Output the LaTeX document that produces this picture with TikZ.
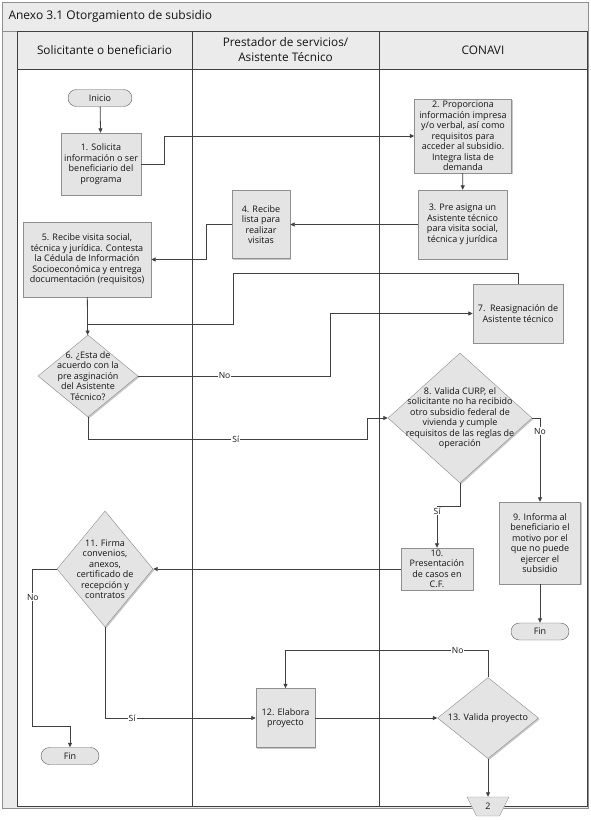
\documentclass[tikz,border=0pt]{standalone}
\usepackage{fontspec}
\setmainfont{Open Sans}
\usetikzlibrary{shapes.geometric,arrows.meta,shadows}
\definecolor{fondo}{HTML}{EBEBEB}
\definecolor{cajagris}{HTML}{E4E4E4}
\definecolor{borde}{HTML}{8F8F8F}
\definecolor{trazo}{HTML}{404040}
\definecolor{letra}{HTML}{141414}
\tikzset{
carril/.style={align=center, text=letra, font=\fontsize{11.8}{15}\selectfont},
caja/.style={draw=borde, fill=cajagris, text=letra, inner sep=1pt, align=center,
  font=\fontsize{9}{10.5}\selectfont,
  drop shadow={shadow xshift=1.3pt, shadow yshift=-1.3pt, fill=black!22, opacity=1}},
rombo/.style={diamond, draw=borde, fill=cajagris, inner sep=0pt,
  drop shadow={shadow xshift=1.3pt, shadow yshift=-1.3pt, fill=black!22, opacity=1}},
textorombo/.style={align=center, text=letra, font=\fontsize{9}{10.5}\selectfont},
terminal/.style={draw=trazo!85, fill=cajagris, text=letra, rounded corners=8.5pt,
  minimum width=58pt, minimum height=17pt, inner sep=0pt, font=\fontsize{9}{10}\selectfont},
conector/.style={minimum width=42pt, minimum height=19pt, inner sep=0pt,
  text=letra, font=\fontsize{9}{10}\selectfont},
flecha/.style={draw=trazo, line width=0.8pt, -{Triangle[length=4.5pt,width=4pt]}},
linea/.style={draw=trazo, line width=0.8pt},
etiqueta/.style={fill=white, inner sep=1pt, text=letra, font=\fontsize{8.5}{10}\selectfont}
}
\begin{document}
\begin{tikzpicture}[x=1pt,y=-1pt]
\useasboundingbox (0,0) rectangle (590,820);
\draw[borde, fill=fondo] (2,2) rectangle (588,808);
\draw[borde] (2,31) -- (588,31);
\draw[trazo, fill=fondo] (17,31) rectangle (587,69);
\draw[trazo, fill=white] (17,69) rectangle (587,806);
\draw[trazo] (192,31) -- (192,806);
\draw[trazo] (379,31) -- (379,806);
\node[anchor=west, text=letra, font=\fontsize{12}{14}\selectfont] (titulo) at (5,16) {Anexo 3.1 Otorgamiento de subsidio};
\node[carril] (carril1) at (104.5,50) {Solicitante o beneficiario};
\node[carril] (carril2) at (285.5,50) {Prestador de servicios/\\Asistente Técnico};
\node[carril] (carril3) at (483,50) {CONAVI};

\node[terminal, minimum width=64pt] (inicio) at (100,98) {Inicio};
\node[caja, minimum width=80pt, minimum height=62pt] (s1) at (101,164) {1. Solicita\\información o ser\\beneficiario del\\programa};
\node[caja, minimum width=97pt, minimum height=74pt] (s2) at (463,136) {2. Proporciona\\información impresa\\y/o verbal, así como\\requisitos para\\acceder al subsidio.\\Integra lista de\\demanda};
\node[caja, minimum width=89pt, minimum height=69pt] (s3) at (462.5,224.5) {3. Pre asigna un\\Asistente técnico\\para visita social,\\técnica y jurídica};
\node[caja, minimum width=58pt, minimum height=68pt] (s4) at (261,224.5) {4. Recibe\\lista para\\realizar\\visitas};
\node[caja, minimum width=128pt, minimum height=75pt] (s5) at (87,259.5) {5. Recibe visita social,\\técnica y jurídica. Contesta\\la Cédula de Información\\Socioeconómica y entrega\\documentación (requisitos)};
\node[rombo, minimum width=100pt, minimum height=82pt] (s6) at (88,376) {};
\node[textorombo] at (s6) {6. ¿Esta de\\acuerdo con la\\pre asginación\\del Asistente\\Técnico?};
\node[caja, minimum width=90pt, minimum height=59pt] (s7) at (518,313.5) {7.\ \ Reasignación de\\Asistente técnico};
\node[rombo, minimum width=144pt, minimum height=130pt] (s8) at (460,418) {};
\node[textorombo] at (s8) {8. Valida CURP, el\\solicitante no ha recibido\\otro subsidio federal de\\vivienda y cumple\\requisitos de las reglas de\\operación};
\node[caja, minimum width=81pt, minimum height=82pt] (s9) at (540,543) {9. Informa al\\beneficiario el\\motivo por el\\que no puede\\ejercer el\\subsidio};
\node[terminal] (fin1) at (540,631.5) {Fin};
\node[caja, minimum width=72pt, minimum height=42pt] (s10) at (437,569) {10.\\Presentación\\de casos en\\C.F.};
\node[rombo, minimum width=96pt, minimum height=116pt] (s11) at (105,569) {};
\node[textorombo] at (s11) {11. Firma\\convenios,\\anexos,\\certificado de\\recepción y\\contratos};
\node[caja, minimum width=59pt, minimum height=59pt] (s12) at (285.5,718) {12. Elabora\\proyecto};
\node[rombo, minimum width=101pt, minimum height=81pt] (s13) at (488,718) {};
\node[textorombo] at (s13) {13. Valida proyecto};
\node[terminal] (fin2) at (70,756) {Fin};
\draw[borde, fill=cajagris] (467,797) -- (509,797) -- (499.5,816) -- (476.5,816) -- cycle;
\node[conector] (pagina2) at (488,806.5) {2};

\coordinate (union) at (88,324);
\draw[flecha] (inicio) -- (s1);
\draw[flecha] (s1.east) -- ++(23,0) |- (s2.west);
\draw[flecha] (s2) -- (s3);
\draw[flecha] (s3) -- (s4);
\draw[flecha] (s4.west) -- ++(-25,0) |- (s5.east);
\draw[flecha] (s5) -- (s6);
\draw[linea] (s7.north) -- ++(0,-10) -| (233,324) -- (union);
\draw[flecha] (s6.east) -- node[etiqueta, pos=0.45]{No} ++(192,0) |- (s7.west);
\draw[flecha] (s6.south) -- ++(0,22) -- node[etiqueta, pos=0.53]{Sí} ++(279,0) |- (s8.west);
\draw[flecha] (s8.east) -| node[etiqueta, pos=0.58]{No} (s9.north);
\draw[flecha] (s8.south) -- ++(0,23) -| node[etiqueta, pos=0.56]{Sí} (s10.north);
\draw[flecha] (s9) -- (fin1);
\draw[flecha] (s10) -- (s11);
\draw[flecha] (s11.west) -- ++(-24,0) -- node[etiqueta, pos=0.18]{No} ++(0,157) -| (fin2.north);
\draw[flecha] (s11.south) |- node[etiqueta, pos=0.59]{Sí} (s12.west);
\draw[flecha] (s12) -- (s13);
\draw[flecha] (s13.north) -- ++(0,-27) -| node[etiqueta, pos=0.075]{No} (s12.north);
\draw[flecha] (s13) -- (pagina2);
\end{tikzpicture}
\end{document}
